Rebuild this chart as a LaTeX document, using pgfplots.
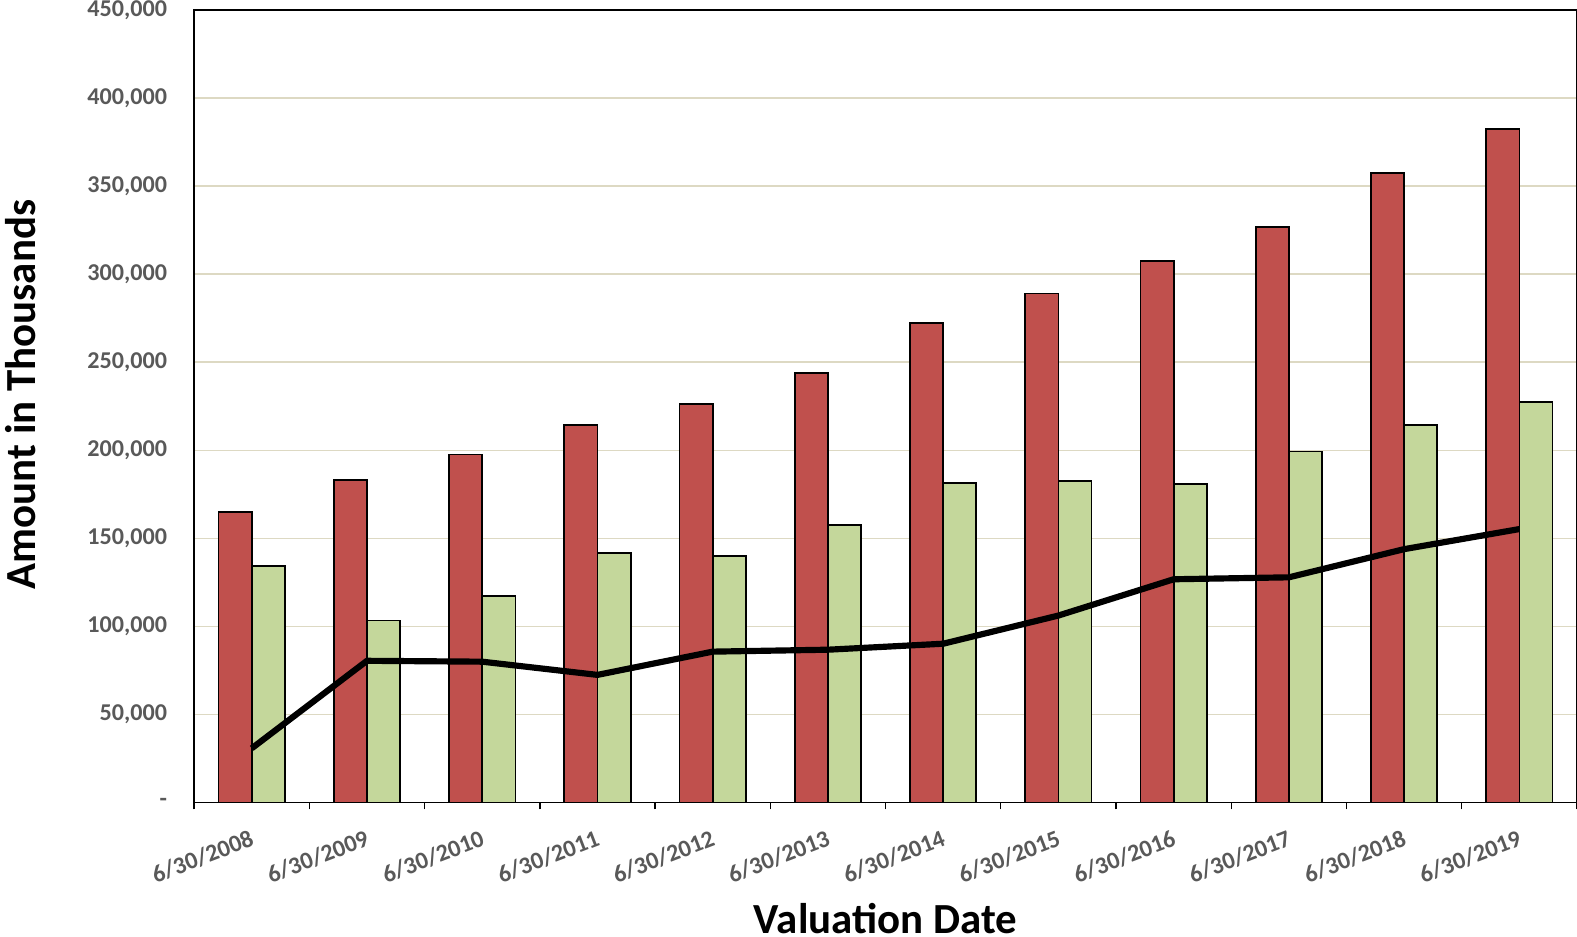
\documentclass[border=0pt]{standalone}
\usepackage{pgfplots}
\pgfplotsset{compat=1.18}
\usepackage{fontspec}
\setmainfont{Carlito}
\definecolor{barred}{HTML}{C0504D}
\definecolor{bargreen}{HTML}{C4D79B}
\definecolor{gridc}{HTML}{DDD9C3}
\definecolor{tickgray}{HTML}{595959}
\begin{document}
\begin{tikzpicture}
\begin{axis}[
  at={(144.75pt,99.75pt)}, anchor=south west,
  scale only axis, width=1031.25pt, height=591pt,
  xmin=-0.5, xmax=11.5, ymin=0, ymax=450000,
  xtick={-0.5,0.5,...,11.5},
  x tick label as interval,
  xticklabels={6/30/2008,6/30/2009,6/30/2010,6/30/2011,6/30/2012,6/30/2013,6/30/2014,6/30/2015,6/30/2016,6/30/2017,6/30/2018,6/30/2019},
  xtick pos=bottom, xtick align=outside,
  major tick length=5pt,
  x tick style={black, line width=1pt},
  ytick={0,50000,...,450000},
  yticklabels={{-},{50,000},{100,000},{150,000},{200,000},{250,000},{300,000},{350,000},{400,000},{450,000}},
  y tick style={draw=none},
  ymajorgrids, grid style={gridc, line width=1.2pt},
  axis line style={black, line width=1pt},
  ticklabel style={font=\fontsize{18}{20}\selectfont\bfseries, text=tickgray},
  yticklabel style={inner sep=0pt, xshift=-20pt},
  xticklabel style={rotate=21, anchor=north east, inner sep=0pt, xshift=-7pt, yshift=-13pt},
  xlabel={Valuation Date}, ylabel={Amount in Thousands},
  label style={font=\fontsize{32}{34}\selectfont\bfseries},
  xlabel style={at={(axis description cs:0.5,-0.165)}, anchor=base},
  ylabel style={at={(axis description cs:-0.1258,0.515)}, anchor=center},
  clip=false,
]
\addplot[ybar, bar width=24.75pt, bar shift=-12.375pt, fill=barred, draw=black, line width=1.3pt] coordinates {
(0,165000) (1,183300) (2,197600) (3,214200) (4,226200) (5,243900) (6,272400) (7,289000) (8,307300) (9,326700) (10,357500) (11,382600)};
\addplot[ybar, bar width=24.75pt, bar shift=12.375pt, fill=bargreen, draw=black, line width=1.3pt] coordinates {
(0,134200) (1,103400) (2,117100) (3,141600) (4,139900) (5,157600) (6,181600) (7,182800) (8,181000) (9,199300) (10,214200) (11,227300)};
\addplot[black, line width=4.6pt, line join=round, mark=none] coordinates {
(0,30800) (1,80500) (2,80000) (3,72500) (4,85700) (5,86800) (6,90200) (7,106200) (8,126800) (9,127900) (10,143900) (11,155300)};
\end{axis}
\pgfresetboundingbox
\path[use as bounding box] (0,0) rectangle (1176pt,698.25pt);
\end{tikzpicture}
\end{document}
